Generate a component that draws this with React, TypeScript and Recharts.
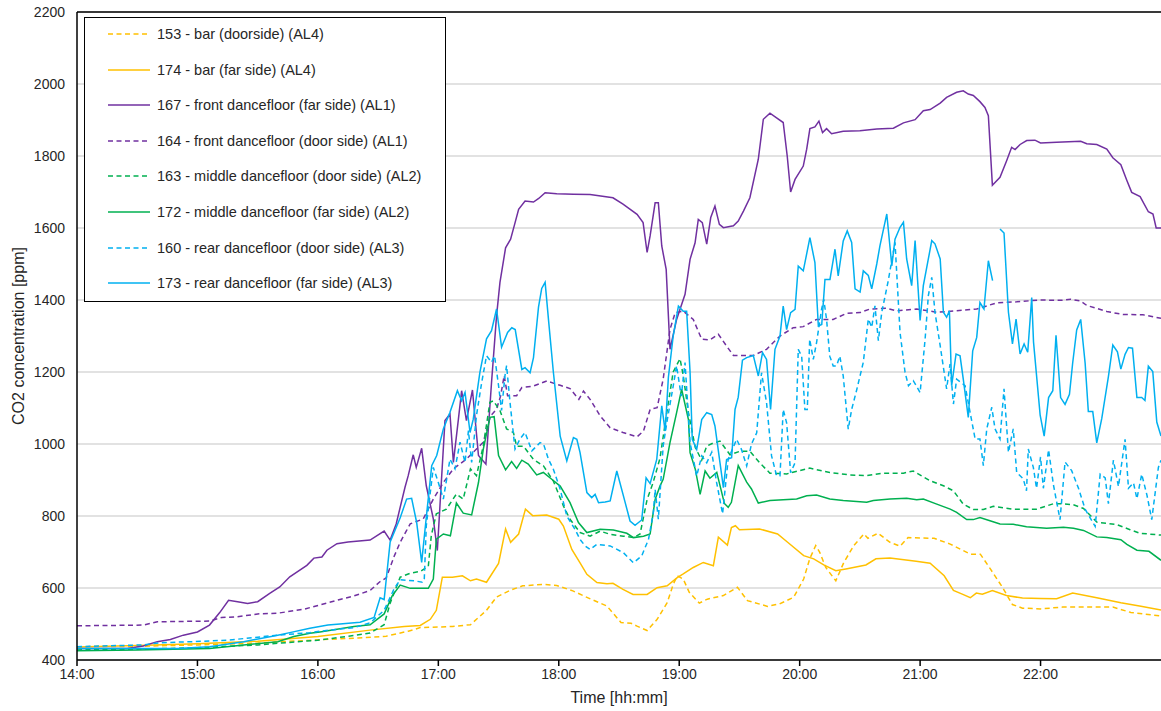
import React from 'react'
import { LineChart, Line, XAxis, YAxis, CartesianGrid, ReferenceLine } from 'recharts'

// minutes after 14:00, ppm
type Pt = [number, number | null]

const xTicks = [0, 60, 120, 180, 240, 300, 360, 420, 480]
const yTicks = [400, 600, 800, 1000, 1200, 1400, 1600, 1800, 2000, 2200]

const s153: Pt[] = [
  [0, 437], [30, 438], [60, 442], [90, 447], [120, 456], [140, 461], [154, 466], [165, 480], [171, 490], [187, 493],
  [196, 498], [204, 538], [209, 575], [216, 594], [222, 606], [232, 610], [239, 607], [247, 592], [256, 569], [264, 550],
  [271, 504], [276, 502], [279, 494], [284, 482], [289, 513], [294, 559], [297, 610], [299, 634], [302, 625], [305, 588],
  [310, 558], [314, 569], [322, 579], [329, 602], [334, 565], [344, 549], [350, 556], [357, 574], [362, 625], [365, 681],
  [368, 718], [370, 699], [373, 657], [378, 620], [382, 671], [387, 718], [392, 750], [394, 738], [399, 752], [405, 727],
  [410, 716], [414, 740], [427, 738], [435, 722], [445, 694], [450, 694], [455, 653], [461, 602], [466, 554], [471, 544],
  [480, 542], [491, 547], [516, 547], [525, 532], [540, 522],
]

const s174: Pt[] = [
  [0, 436], [30, 440], [60, 445], [90, 452], [120, 465], [146, 483], [163, 493], [171, 496], [176, 513], [179, 538],
  [182, 630], [187, 630], [192, 634], [196, 620], [199, 625], [204, 616], [210, 668], [213.5, 764], [216, 727], [220, 750],
  [223.4, 819], [227, 801], [234, 803], [240, 791], [242.3, 772], [246.5, 707], [250.6, 670], [254, 638], [259, 615], [264, 612],
  [267, 613], [272, 596], [277, 582], [284, 582], [289, 601], [294, 606], [299, 629], [302, 639], [307, 657], [312, 671],
  [317, 662], [319.5, 741], [324, 719], [326, 768], [328, 773], [330, 762], [340, 764], [349, 750], [354, 727], [362, 690],
  [367, 681], [372, 664], [378, 648], [383, 653], [393, 664], [398, 681], [405, 683], [418, 674], [425, 669], [432, 634],
  [436.6, 593], [441, 583], [445, 573], [448, 586], [451, 583], [456, 593], [463, 579], [471, 572], [480, 571], [488, 570],
  [496, 586], [508, 573], [520, 559], [530, 549], [540, 539],
]

const s167: Pt[] = [
  [0, 432], [25, 432], [33, 439], [40, 451], [46.5, 457], [53, 469], [60, 478], [66, 497], [71, 531], [75.5, 566],
  [80, 562], [85, 557], [90, 562], [96, 585], [101, 603], [106, 631], [114.5, 663], [118, 683], [122, 686], [124.5, 705],
  [129.5, 723], [135, 728], [146, 733], [153, 758], [156, 733], [159, 778], [163.4, 880], [165, 912], [167.5, 970], [169, 935],
  [171.7, 988], [174, 884], [177.5, 792], [179.5, 704], [183.3, 1065], [185.8, 1083], [187.5, 949], [190, 1069], [191.6, 1148], [194, 1065],
  [197, 1150], [200, 968], [203.7, 944], [206.5, 1171], [209, 1356], [210.7, 1449], [213.5, 1545], [216, 1569], [218, 1610], [220, 1652],
  [223.2, 1675], [227.4, 1672], [230, 1682], [233.2, 1698], [239, 1695], [247.3, 1694], [255.6, 1693], [267, 1684], [272, 1666], [279, 1638],
  [282, 1615], [284, 1532], [285.5, 1578], [288, 1670], [289.6, 1670], [291.3, 1550], [293.5, 1485], [295.4, 1263], [298.7, 1346], [302.9, 1416],
  [305.4, 1513], [307.9, 1559], [309.5, 1624], [311.5, 1615], [313.7, 1555], [315.7, 1629], [317.8, 1661], [320, 1610], [322, 1601], [327, 1606],
  [329.4, 1619], [332, 1647], [335.2, 1684], [339.4, 1791], [341.9, 1902], [345.2, 1919], [348.5, 1906], [351.8, 1893], [353.8, 1800], [355.5, 1700],
  [357.7, 1735], [361.8, 1772], [363.5, 1819], [365.1, 1876], [367.6, 1881], [369.6, 1897], [371.4, 1865], [373.4, 1876], [375.9, 1862], [381.7, 1869],
  [390, 1870], [398.4, 1875], [406.7, 1877], [411.7, 1892], [417.5, 1901], [421.6, 1926], [425, 1929], [430, 1947], [433.2, 1963], [438.2, 1977],
  [441.5, 1981], [444, 1972], [446.5, 1968], [449.8, 1951], [452.3, 1935], [454, 1912], [456, 1719], [459.8, 1741], [463.1, 1787], [465.6, 1824],
  [467.3, 1818], [469.8, 1832], [473.1, 1843], [477.2, 1844], [480, 1836], [488, 1838], [500, 1841], [503, 1834], [508, 1832], [513, 1819],
  [516, 1795], [520, 1776], [523, 1732], [525.4, 1699], [529.6, 1687], [533.7, 1645], [536, 1639], [537.6, 1600], [540, 1600],
]

const s164: Pt[] = [
  [0, 495], [33, 497], [40, 506], [50, 507], [66, 508], [72, 518], [80, 520], [90, 528], [100, 530], [113, 541],
  [121, 553], [131, 568], [138, 578], [146, 593], [151, 618], [154, 628], [158, 688], [161, 727], [164, 758], [166, 778],
  [172.5, 792], [177.5, 847], [182.5, 893], [187.5, 931], [194, 958], [202.4, 1005], [206, 1078], [209, 1097], [211, 1133], [212.8, 1190],
  [214.5, 1134], [219, 1134], [221.6, 1157], [227.4, 1161], [234, 1175], [240.7, 1163], [245.6, 1154], [250, 1124], [252.3, 1147], [255.6, 1124],
  [260.6, 1078], [265.6, 1045], [272, 1032], [279, 1020], [282.2, 1036], [285.5, 1096], [289, 1101], [292, 1180], [295.4, 1318], [298, 1365],
  [302, 1369], [307, 1346], [311.2, 1291], [315.3, 1289], [319.5, 1305], [323.6, 1272], [327, 1246], [337, 1246], [343.5, 1263], [350.2, 1300],
  [356.8, 1323], [361.8, 1326], [368.4, 1346], [376.7, 1346], [383.4, 1363], [390, 1365], [395, 1375], [403.4, 1377], [408.3, 1370], [418.3, 1375],
  [428.3, 1366], [438.2, 1370], [448.2, 1375], [458.1, 1392], [468.1, 1395], [479.7, 1400], [490, 1399], [495, 1402], [500, 1397], [503, 1385],
  [513, 1368], [521, 1360], [531, 1359], [540, 1349],
]

const s163: Pt[] = [
  [0, 428], [30, 430], [60, 434], [90, 442], [120, 455], [138, 468], [146, 475], [153, 498], [156, 558], [161, 630],
  [166, 641], [171, 646], [175, 660], [176.5, 746], [179, 806], [184, 819], [189, 861], [192.4, 847], [196, 931], [199, 912],
  [202.4, 995], [205.7, 1116], [207.4, 1120], [210.7, 1093], [214, 1042], [217.4, 1032], [219, 994], [222.4, 994], [227.4, 957], [232.4, 939],
  [237.3, 897], [242.3, 828], [245.6, 791], [250.6, 754], [255.6, 744], [260.6, 758], [265.6, 749], [272.2, 744], [277.2, 740], [280.5, 750],
  [284, 846], [287, 893], [290.4, 960], [293.8, 1087], [297, 1200], [300.4, 1237], [302, 1190], [304.6, 1087], [308, 990], [311.2, 955],
  [313.7, 994], [317, 1003], [320.3, 1008], [325.3, 970], [330.3, 980], [335.2, 980], [340.2, 947], [345.2, 919], [353.5, 917], [365, 933],
  [375, 921], [385, 914], [393.4, 912], [401.7, 919], [411.7, 919], [416.6, 925], [425, 898], [431.6, 884], [436.6, 870], [441.5, 833],
  [446.5, 818], [451.5, 818], [456.5, 827], [466.4, 819], [478, 819], [486.4, 834], [491.4, 834], [496.4, 831], [501.4, 821], [508, 783],
  [518, 776], [524.6, 762], [529.6, 752], [540, 747],
]

const s172: Pt[] = [
  [0, 426], [30, 428], [66, 432], [83, 442], [100, 451], [108, 465], [116, 474], [121, 478], [138, 493], [146, 498],
  [153, 528], [157, 578], [161, 608], [166, 599], [175, 599], [177.5, 625], [179, 736], [182.5, 750], [186, 745], [189, 836],
  [192.4, 808], [196.6, 803], [200, 893], [202.4, 986], [205.7, 1074], [207.8, 1076], [210, 968], [213.5, 928], [216.5, 951], [219, 932],
  [221.6, 955], [224.8, 944], [229, 914], [232.3, 921], [236.5, 902], [240.7, 883], [245.6, 837], [249.8, 782], [254, 754], [260.6, 763],
  [267.2, 761], [273.9, 752], [277.2, 740], [282.2, 744], [285.5, 750], [288, 846], [290.4, 883], [292, 902], [295.4, 1004], [298.7, 1087],
  [301.2, 1152], [304.6, 1068], [305.4, 976], [308, 930], [310.4, 860], [312.9, 925], [315.3, 905], [318.7, 921], [322.5, 835], [324.4, 824],
  [326, 838], [329.4, 940], [333.6, 894], [336, 875], [339.4, 836], [345.2, 843], [351.8, 845], [358.5, 847], [363.5, 856], [368.4, 858],
  [375, 847], [381.7, 843], [393.4, 838], [396.7, 843], [405, 847], [413.3, 849], [418.3, 845], [421.6, 847], [428.3, 833], [435, 819],
  [438.2, 810], [443.2, 790], [446.5, 790], [449.8, 796], [454.8, 787], [459.8, 778], [466.4, 777], [473, 770], [483, 766], [491.4, 769],
  [496.4, 766], [501.4, 760], [508, 742], [513, 740], [520, 734], [523, 721], [528, 705], [534, 702], [540, 677],
]

const s160: Pt[] = [
  [0, 437], [33, 442], [41.5, 448], [58, 451], [75, 455], [100, 469], [116, 476], [121, 480], [138, 490], [146, 503],
  [153, 538], [158, 598], [161, 623], [168, 620], [172, 616], [173, 625], [174, 773], [177.5, 935], [180, 893], [182.5, 847],
  [185.8, 958], [188.3, 931], [190.8, 1005], [193.3, 949], [195, 1037], [196.6, 949], [199, 1079], [201.6, 1171], [204, 1245], [206.5, 1227],
  [208, 1245], [210, 1162], [211.5, 1093], [213.2, 1190], [214, 1218], [215.7, 1116], [218.2, 986], [220.7, 1014], [223.2, 1032], [226.6, 981],
  [230.7, 1004], [232.4, 1000], [234.9, 957], [237.3, 930], [240.7, 874], [244, 800], [248.1, 763], [250.6, 735], [253.1, 717], [255.6, 707],
  [258.9, 721], [265.6, 717], [272.2, 698], [277.2, 670], [281.3, 689], [284.7, 735], [287.1, 809], [288, 874], [289.6, 791], [292, 994],
  [293.8, 1059], [297, 1161], [298.7, 1217], [301, 1133], [302.9, 1226], [305.4, 1004], [308.7, 911], [311.2, 967], [313.7, 948], [316.2, 977],
  [318.6, 894], [321.6, 806], [324.4, 958], [328.6, 1013], [331, 985], [333.6, 939], [336, 1000], [338.6, 1031], [341, 1198], [343.5, 1115],
  [346, 967], [348.5, 912], [350.2, 912], [351.8, 1096], [353.5, 1059], [355.5, 920], [357.7, 948], [359.3, 1263], [361, 1244], [362.6, 1096],
  [363.8, 1096], [365, 1291], [366.8, 1235], [368.4, 1281], [370.9, 1374], [372, 1402], [373.4, 1346], [375, 1244], [376.7, 1217], [378.4, 1217],
  [380, 1244], [381.7, 1189], [384.2, 1041], [385.9, 1096], [388.4, 1150], [391.7, 1227], [394.2, 1347], [395.9, 1324], [397.5, 1384], [399.2, 1287],
  [400.9, 1366], [404, 1450], [407.5, 1560], [410, 1310], [412.5, 1199], [414.2, 1162], [416.6, 1176], [420, 1143], [422.5, 1292], [424.1, 1412],
  [425.8, 1463], [427.4, 1366], [430, 1273], [433.2, 1153], [434.9, 1222], [436.6, 1111], [438.2, 1180], [442.4, 1162], [444.9, 1088], [447.4, 1014],
  [449.8, 1014], [451.5, 940], [453.2, 1042], [455.7, 1102], [457.3, 1042], [459.8, 1014], [461.8, 1153], [464, 977], [466.4, 1042], [468.1, 921],
  [471.4, 903], [473, 870], [473.9, 986], [476.4, 935], [478, 877], [480, 964], [481.4, 877], [484, 984], [486.4, 887], [489.7, 790],
  [492.2, 950], [495.5, 926], [498.9, 877], [502.2, 819], [504.7, 795], [507.2, 771], [509.7, 916], [512.2, 906], [513.8, 834], [516.3, 955],
  [518.8, 882], [522.1, 1013], [523.8, 877], [526.3, 892], [528, 848], [530.4, 916], [533, 858], [535.4, 790], [538.7, 935], [540, 955],
]

const s173: Pt[] = [
  [0, 432], [50, 432], [66, 437], [83, 451], [100, 469], [106, 476], [116, 488], [125, 497], [131, 500], [141, 505],
  [148, 518], [151, 573], [153, 568], [156, 728], [161, 795], [164.2, 847], [166.7, 849], [169.2, 782], [171.7, 671], [173.4, 764],
  [176.7, 940], [179.2, 968], [182.5, 1042], [185.8, 1088], [189.5, 1148], [191.6, 1120], [193.3, 1143], [195.8, 1032], [197.4, 1069], [200.7, 1199],
  [204, 1292], [206.5, 1315], [209, 1375], [211.5, 1269], [214.5, 1310], [216.6, 1323], [218.3, 1318], [221.6, 1207], [223.2, 1212], [225.7, 1198],
  [227.4, 1240], [229.9, 1380], [231.5, 1432], [233.2, 1449], [235, 1338], [237.3, 1200], [240.7, 1022], [244, 953], [247.3, 1018], [249, 1013],
  [250.6, 976], [254, 865], [256.4, 851], [258.1, 860], [259.8, 837], [263.1, 839], [265.6, 842], [268.9, 925], [272.2, 856], [275.5, 786],
  [278, 774], [281.3, 789], [283.5, 906], [285.5, 890], [288.8, 957], [291.3, 1106], [293, 1036], [294.6, 1185], [297, 1300], [299.6, 1383],
  [302, 1369], [303.7, 1369], [305.4, 1200], [306.5, 1013], [308.7, 985], [311.2, 1068], [313.7, 1087], [316.2, 1082], [317.8, 1050], [320.3, 948],
  [322, 879], [323.6, 957], [326.1, 962], [327.8, 1096], [329.4, 1130], [331.5, 1233], [333.6, 1240], [336.9, 1246], [339.4, 1189], [341.5, 1254],
  [343.5, 1235], [345.5, 1096], [347.7, 1263], [350.2, 1300], [351.8, 1383], [353.5, 1318], [355.5, 1365], [357.7, 1374], [359.3, 1494], [361.8, 1481],
  [365.1, 1573], [367.6, 1504], [369.3, 1328], [371, 1332], [372.6, 1457], [375.1, 1457], [377.6, 1541], [379.2, 1467], [381.7, 1564], [383.7, 1592],
  [385.9, 1560], [387.6, 1431], [390.1, 1422], [391.7, 1481], [394.2, 1468], [395.9, 1431], [398.4, 1500], [400, 1551], [403.4, 1639], [405.9, 1495],
  [407.5, 1569], [410, 1602], [411.7, 1616], [413.3, 1514], [415.8, 1440], [417.5, 1565], [420, 1343], [421.6, 1440], [424.1, 1514], [425.8, 1565],
  [427.4, 1556], [430, 1514], [431.6, 1366], [433.2, 1352], [434.6, 1370], [435.7, 1162], [437.9, 1250], [439.9, 1245], [441.5, 1180], [444, 1074],
  [446.2, 1259], [448.2, 1296], [449.8, 1393], [451.8, 1375], [454, 1509], [456.1, 1454], [458, null], [459.8, 1597], [461.8, 1586], [464, 1366],
  [466, 1278], [467.8, 1347], [469.8, 1250], [471.8, 1278], [473.6, 1255], [475.6, 1407], [476.5, 1283], [479.8, 1080], [481.8, 1022], [484, 1129],
  [486.1, 1148], [487.7, 1302], [490, 1129], [492.2, 1110], [494.4, 1138], [496, 1225], [498, 1317], [500, 1346], [502.2, 1225], [503.8, 1090],
  [506, 1090], [508, 1003], [510.5, 1071], [513.8, 1187], [516, 1275], [518.3, 1256], [520, 1208], [522.1, 1249], [523.8, 1268], [525.8, 1266],
  [528, 1129], [530.4, 1129], [532, 1121], [533.7, 1216], [535.9, 1201], [537.9, 1061], [540, 1022],
]

const YELLOW = '#FFC000'
const PURPLE = '#7030A0'
const GREEN = '#00B050'
const BLUE = '#00B0F0'

const SERIES = [
  { key: '153', name: '153 - bar (doorside) (AL4)', color: YELLOW, dashed: true, pts: s153 },
  { key: '174', name: '174 - bar (far side) (AL4)', color: YELLOW, dashed: false, pts: s174 },
  { key: '167', name: '167 - front dancefloor (far side) (AL1)', color: PURPLE, dashed: false, pts: s167 },
  { key: '164', name: '164 - front dancefloor (door side) (AL1)', color: PURPLE, dashed: true, pts: s164 },
  { key: '163', name: '163 - middle dancefloor (door side) (AL2)', color: GREEN, dashed: true, pts: s163 },
  { key: '172', name: '172 - middle dancefloor (far side) (AL2)', color: GREEN, dashed: false, pts: s172 },
  { key: '160', name: '160 - rear dancefloor (door side) (AL3)', color: BLUE, dashed: true, pts: s160 },
  { key: '173', name: '173 - rear dancefloor (far side) (AL3)', color: BLUE, dashed: false, pts: s173 },
]

const DASH = '5 3.5'
const TEXT = '#262626'
const FONT = '"Liberation Sans", Arial, sans-serif'

const fmtTime = (t: number) => `${14 + Math.floor(t / 60)}:${String(t % 60).padStart(2, '0')}`

function LegendBox() {
  return (
    <div style={{
      position: 'absolute', left: 84, top: 17, width: 362, height: 285,
      border: '1.5px solid #000', background: '#fff', boxSizing: 'border-box',
    }}>
      {SERIES.map((s, i) => (
        <div key={s.key} style={{
          position: 'absolute', left: 0, top: 16 + i * 35.6 - 10, height: 20,
          display: 'flex', alignItems: 'center', whiteSpace: 'nowrap',
        }}>
          <svg width={72} height={20}>
            <line x1={23} x2={65} y1={10} y2={10} stroke={s.color} strokeWidth={1.5}
              strokeDasharray={s.dashed ? DASH : undefined} />
          </svg>
          <span style={{ fontSize: 14.5, color: TEXT }}>{s.name}</span>
        </div>
      ))}
    </div>
  )
}

export default function App() {
  return (
    <div style={{ position: 'absolute', left: 0, top: 0, width: 1161, height: 711, fontFamily: FONT, background: '#fff' }}>
      <LineChart width={1161} height={711} margin={{ top: 12, right: 0, bottom: 0, left: 0 }}>
        <CartesianGrid vertical={false} stroke="#d9d9d9" strokeWidth={1.5} />
        <XAxis
          dataKey="t" type="number" domain={[0, 540]} ticks={xTicks} interval={0}
          tickFormatter={fmtTime} height={51} allowDataOverflow
          axisLine={{ stroke: '#000', strokeWidth: 1.5 }} tickLine={{ stroke: '#000', strokeWidth: 1.5 }}
          tickSize={6} tickMargin={3}
          tick={{ fontSize: 14, fill: TEXT, fontFamily: FONT }}
          label={() => (
            <text x={619} y={697} textAnchor="middle" dominantBaseline="central"
              fontSize={16} fill={TEXT} fontFamily={FONT}>Time [hh:mm]</text>
          )}
        />
        <YAxis
          type="number" domain={[400, 2200]} ticks={yTicks} interval={0} width={77} allowDataOverflow
          axisLine={{ stroke: '#000', strokeWidth: 1.5 }} tickLine={false}
          tickSize={6} tickMargin={6}
          tick={{ fontSize: 14, fill: TEXT, fontFamily: FONT }}
          label={() => (
            <text x={18} y={336} transform="rotate(-90 18 336)" textAnchor="middle" dominantBaseline="central"
              fontSize={16} fill={TEXT} fontFamily={FONT}>CO2 concentration [ppm]</text>
          )}
        />
        <ReferenceLine y={2200} stroke="#000" strokeWidth={1.5} />
        {SERIES.map((s) => (
          <Line
            key={s.key}
            data={s.pts.map(([t, v]) => ({ t, ['v' + s.key]: v }))}
            dataKey={'v' + s.key}
            name={s.name}
            type="linear"
            stroke={s.color}
            strokeWidth={1.5}
            strokeDasharray={s.dashed ? DASH : undefined}
            dot={false}
            activeDot={false}
            isAnimationActive={false}
          />
        ))}
      </LineChart>
      <LegendBox />
    </div>
  )
}
